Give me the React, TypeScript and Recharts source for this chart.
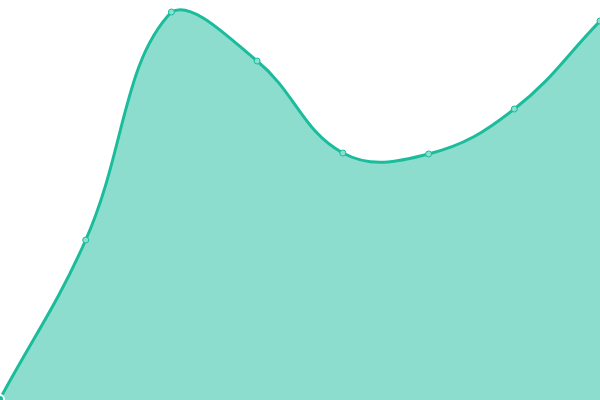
import React from 'react';
import { AreaChart, Area, XAxis, YAxis } from 'recharts';

const labels = ['A', 'B', 'C', 'D', 'E', 'F', 'G', 'H'];
const values = [1, 160, 388, 339, 247, 246, 291, 379];

const data = labels.map((name, i) => ({ name, value: values[i] }));

const W = 600;
const H = 400;

// distance-weighted spline (tension 0.4), control points kept inside the plot
const splineCurve = (tension: number) => (context: any) => {
  let pts: number[][] = [];
  let line = NaN;
  const clampX = (v: number) => Math.max(0, Math.min(W, v));
  const clampY = (v: number) => Math.max(0, Math.min(H, v));
  return {
    areaStart() { line = 0; },
    areaEnd() { line = NaN; },
    lineStart() { pts = []; },
    point(x: number, y: number) { pts.push([+x, +y]); },
    lineEnd() {
      const n = pts.length;
      if (n) {
        if (line) context.lineTo(pts[0][0], pts[0][1]);
        else context.moveTo(pts[0][0], pts[0][1]);
        const cps = pts.map((p, i) => {
          const prev = pts[Math.max(i - 1, 0)];
          const next = pts[Math.min(i + 1, n - 1)];
          const d01 = Math.hypot(p[0] - prev[0], p[1] - prev[1]);
          const d12 = Math.hypot(next[0] - p[0], next[1] - p[1]);
          let s01 = d01 / (d01 + d12);
          let s12 = d12 / (d01 + d12);
          if (isNaN(s01)) s01 = 0;
          if (isNaN(s12)) s12 = 0;
          const fa = tension * s01;
          const fb = tension * s12;
          return {
            inX: clampX(p[0] - fa * (next[0] - prev[0])),
            inY: clampY(p[1] - fa * (next[1] - prev[1])),
            outX: clampX(p[0] + fb * (next[0] - prev[0])),
            outY: clampY(p[1] + fb * (next[1] - prev[1])),
          };
        });
        for (let i = 1; i < n; i++) {
          context.bezierCurveTo(cps[i - 1].outX, cps[i - 1].outY, cps[i].inX, cps[i].inY, pts[i][0], pts[i][1]);
        }
      }
      if (line || (line !== 0 && n === 1)) context.closePath();
      line = 1 - line;
    },
  };
};

const App = () => {
  return (
    <div style={{ position: 'absolute', left: 0, top: 0, width: W, height: H }}>
      <AreaChart width={W} height={H} data={data} margin={{ top: 0, right: 0, bottom: 0, left: 0 }}>
        <XAxis dataKey="name" hide />
        <YAxis hide domain={[0, 400]} />
        <Area
          type={splineCurve(0.4) as any}
          dataKey="value"
          stroke="#1abc9c"
          strokeWidth={3}
          fill="#1abc9c"
          fillOpacity={0.5}
          dot={{ r: 3, fill: '#8ae0d0', stroke: '#1abc9c', strokeWidth: 1, fillOpacity: 1 }}
          isAnimationActive={false}
        />
      </AreaChart>
    </div>
  );
};

export default App;
